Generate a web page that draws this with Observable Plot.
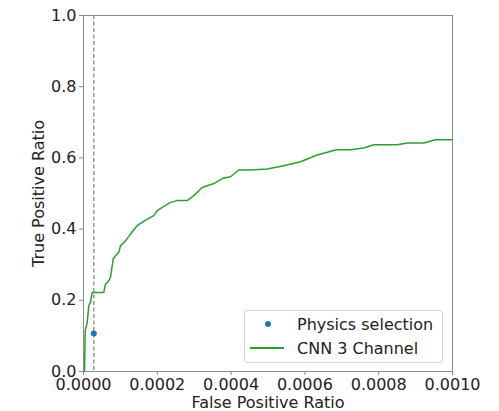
<!DOCTYPE html>
<html>
<head>
<meta charset="utf-8">
<script src="https://cdn.jsdelivr.net/npm/d3@7"></script>
<script src="https://cdn.jsdelivr.net/npm/@observablehq/plot@0.6"></script>
<style>
  html, body { margin: 0; padding: 0; background: #fff; }
  #wrap { position: relative; width: 499px; height: 411px; font-family: "DejaVu Sans", sans-serif; }
  #legend { position: absolute; left: 244px; top: 310px; width: 199px; height: 53px; border: 1px solid #d5d5d5; border-radius: 3px; background: rgba(255,255,255,0.85); box-sizing: border-box; font-size: 16px; color: #222; }
  .row { position: absolute; left: 0; height: 20px; display: flex; align-items: center; }
  .sym { width: 52px; position: relative; height: 20px; }
</style>
</head>
<body>
<div id="wrap"></div>
<script>
// Data
const fpr = [0, 0.0000027, 0.0000046, 0.00001, 0.0000144, 0.000019, 0.0000236, 0.000055, 0.0000596, 0.0000686, 0.0000732, 0.0000805, 0.0000867, 0.0000957, 0.0001003, 0.0001138, 0.0001274, 0.0001455, 0.000168, 0.0001905, 0.0001997, 0.0002133, 0.0002358, 0.0002539, 0.000281, 0.0002989, 0.0003217, 0.0003531, 0.0003759, 0.0003984, 0.0004209, 0.0004526, 0.0004978, 0.0005428, 0.0005881, 0.0006333, 0.0006856, 0.0007236, 0.0007596, 0.0007867, 0.0008501, 0.0008772, 0.0009222, 0.0009539, 0.001];
const tpr = [0, 0, 0.115, 0.138, 0.185, 0.194, 0.222, 0.222, 0.246, 0.255, 0.265, 0.316, 0.325, 0.335, 0.353, 0.367, 0.386, 0.41, 0.425, 0.438, 0.452, 0.461, 0.475, 0.48, 0.48, 0.494, 0.517, 0.528, 0.542, 0.547, 0.566, 0.566, 0.569, 0.578, 0.589, 0.608, 0.623, 0.623, 0.628, 0.637, 0.637, 0.642, 0.642, 0.651, 0.651];
const physicsFpr = [0.000028];
const physicsTpr = [0.107];
const xTicks = [0, 0.0002, 0.0004, 0.0006, 0.0008, 0.001];
const yTicks = [0, 0.2, 0.4, 0.6, 0.8, 1.0];
const seriesNames = ["Physics selection", "CNN 3 Channel"];

const curve = fpr.map((x, i) => ({x, y: tpr[i]}));
const phys = physicsFpr.map((x, i) => ({x, y: physicsTpr[i]}));

const chart = Plot.plot({
  width: 499,
  height: 411,
  marginLeft: 83,
  marginRight: 47,
  marginTop: 15,
  marginBottom: 40,
  style: { fontFamily: "DejaVu Sans, sans-serif", fontSize: "16px", color: "#222", background: "white" },
  x: { domain: [0, 0.001] },
  y: { domain: [0, 1] },
  marks: [
    Plot.ruleX(physicsFpr, { stroke: "#8a8a8a", strokeWidth: 1.3, strokeDasharray: "4,2.5" }),
    Plot.line(curve, { x: "x", y: "y", stroke: "#2ca02c", strokeWidth: 1.5 }),
    Plot.dot(phys, { x: "x", y: "y", r: 3, fill: "#1f77b4", stroke: "none" }),
    Plot.frame({ stroke: "#8c8c8c", strokeWidth: 1 }),
    Plot.axisX({ ticks: xTicks, tickFormat: d3.format(".4f"), tickSize: 4, tickPadding: 3, stroke: "#8c8c8c",
      label: "False Positive Ratio", labelAnchor: "center", labelArrow: "none", labelOffset: 36, fontSize: 16 }),
    Plot.axisY({ ticks: yTicks, tickFormat: d3.format(".1f"), tickSize: 4, tickPadding: 3, stroke: "#8c8c8c",
      label: "True Positive Ratio", labelAnchor: "center", labelArrow: "none", labelOffset: 51, fontSize: 16 })
  ]
});

const wrap = document.getElementById("wrap");
wrap.appendChild(chart);

const legend = document.createElement("div");
legend.id = "legend";
legend.innerHTML = `
  <div class="row" style="top:3px"><div class="sym"><div style="position:absolute;left:20px;top:7px;width:6px;height:6px;border-radius:50%;background:#1f77b4"></div></div><span>${seriesNames[0]}</span></div>
  <div class="row" style="top:27px"><div class="sym"><div style="position:absolute;left:5px;top:9px;width:34px;height:1.5px;background:#2ca02c"></div></div><span>${seriesNames[1]}</span></div>`;
wrap.appendChild(legend);
</script>
</body>
</html>
